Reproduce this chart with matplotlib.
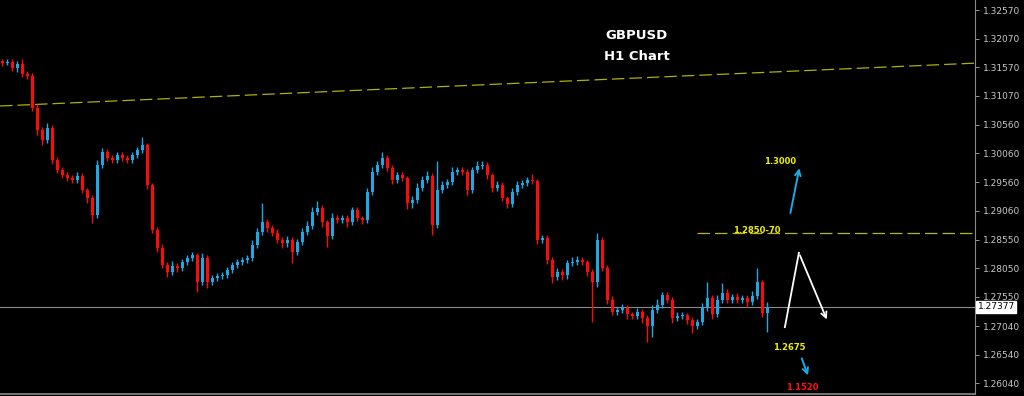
import matplotlib
matplotlib.use("Agg")
import matplotlib.pyplot as plt
import numpy as np

# GBPUSD H1 closes (one per candle)
closes = [
    1.3164, 1.3166, 1.3156, 1.3163, 1.3145, 1.3142, 1.3086, 1.3047, 1.3030, 1.3051,
    1.2995, 1.2977, 1.2968, 1.2963, 1.2960, 1.2967, 1.2942, 1.2928, 1.2898, 1.2986,
    1.3009, 1.2998, 1.2995, 1.3003, 1.2998, 1.2995, 1.3003, 1.3012, 1.3021, 1.2951,
    1.2872, 1.2841, 1.2811, 1.2799, 1.2809, 1.2806, 1.2816, 1.2823, 1.2828, 1.2781,
    1.2823, 1.2781, 1.2788, 1.2792, 1.2793, 1.2802, 1.2811, 1.2816, 1.2820, 1.2823,
    1.2846, 1.2869, 1.2886, 1.2876, 1.2867, 1.2855, 1.2849, 1.2855, 1.2834, 1.2851,
    1.2869, 1.2879, 1.2904, 1.2911, 1.2886, 1.2862, 1.2893, 1.2890, 1.2893, 1.2886,
    1.2907, 1.2893, 1.2890, 1.2939, 1.2974, 1.2986, 1.2998, 1.2981, 1.2960, 1.2968,
    1.2963, 1.2919, 1.2925, 1.2946, 1.2960, 1.2967, 1.2881, 1.2942, 1.2951, 1.2956,
    1.2974, 1.2977, 1.2974, 1.2942, 1.2977, 1.2984, 1.2986, 1.2968, 1.2946, 1.2951,
    1.2928, 1.2918, 1.2939, 1.2951, 1.2954, 1.2960, 1.2958, 1.2855, 1.2858, 1.2820,
    1.2790, 1.2799, 1.2793, 1.2814, 1.2816, 1.2820, 1.2816, 1.2799, 1.2781, 1.2855,
    1.2806, 1.2750, 1.2729, 1.2732, 1.2736, 1.2725, 1.2722, 1.2729, 1.2718, 1.2704,
    1.2732, 1.2741, 1.2758, 1.2750, 1.2718, 1.2722, 1.2723, 1.2715, 1.2704, 1.2711,
    1.2736, 1.2753, 1.2725, 1.2750, 1.2762, 1.2750, 1.2755, 1.2750, 1.2753, 1.2746,
    1.2757, 1.2781, 1.2727, 1.27377,
]
first_open = 1.3168

# wick length beyond the body, in pips
upper_pips = [
    4, 5, 6, 4, 8, 5, 4, 6, 5, 8, 4, 5, 6, 5, 5, 6, 5, 4, 5, 8,
    7, 5, 6, 5, 5, 6, 5, 6, 14, 4, 4, 5, 6, 5, 8, 5, 6, 5, 6, 4,
    9, 5, 6, 5, 5, 6, 5, 6, 5, 6, 8, 6, 33, 6, 5, 6, 5, 6, 5, 6,
    6, 8, 8, 12, 5, 4, 8, 5, 6, 5, 6, 5, 4, 6, 8, 6, 10, 5, 4, 6,
    5, 4, 6, 8, 6, 8, 4, 50, 6, 5, 8, 6, 5, 4, 6, 8, 6, 5, 4, 6,
    5, 4, 6, 6, 5, 5, 10, 4, 5, 5, 4, 6, 5, 6, 8, 6, 5, 4, 4, 12,
    4, 5, 6, 5, 6, 5, 4, 6, 5, 5, 8, 10, 6, 5, 5, 6, 5, 4, 5, 6,
    8, 28, 5, 8, 18, 6, 5, 6, 5, 6, 8, 25, 4, 8,
]
lower_pips = [
    5, 4, 6, 8, 5, 6, 6, 8, 10, 6, 8, 6, 5, 6, 6, 5, 6, 8, 14, 5,
    5, 6, 5, 6, 5, 6, 6, 5, 6, 8, 6, 8, 6, 10, 6, 8, 6, 5, 6, 17,
    6, 10, 6, 5, 6, 5, 6, 5, 6, 5, 5, 6, 6, 8, 6, 6, 8, 6, 19, 6,
    5, 6, 6, 5, 8, 19, 6, 5, 6, 8, 6, 6, 8, 5, 6, 5, 6, 6, 8, 6,
    6, 10, 8, 6, 5, 6, 17, 6, 5, 6, 5, 6, 6, 8, 5, 6, 6, 6, 8, 6,
    6, 8, 6, 5, 6, 5, 6, 8, 6, 8, 10, 6, 8, 6, 5, 6, 6, 8, 70, 8,
    6, 8, 6, 5, 6, 8, 6, 6, 8, 28, 20, 6, 5, 6, 8, 6, 6, 8, 12, 6,
    6, 6, 8, 6, 5, 6, 5, 6, 6, 8, 6, 5, 8, 33,
]

axis_ticks = [1.32570, 1.32070, 1.31570, 1.31070, 1.30560, 1.30060, 1.29560,
              1.29060, 1.28550, 1.28050, 1.27550, 1.27040, 1.26540, 1.26040]
last_price = 1.27377
trend_start, trend_end = 1.3089, 1.3164     # long yellow trendline
resist_level = 1.2867                       # short yellow dashed level

UP = "#1ca9e6"
DOWN = "#ff0a0a"
YEL = "#f0f000"

closes = np.array(closes)
opens = np.concatenate([[first_open], closes[:-1]])
highs = np.maximum(opens, closes) + np.array(upper_pips) * 0.0001
lows = np.minimum(opens, closes) - np.array(lower_pips) * 0.0001
idx = np.arange(len(closes)) + 0.5

fig = plt.figure(figsize=(10.24, 3.96), dpi=100, facecolor="black")
ax = fig.add_axes([0, 0.005, 0.952, 0.995], facecolor="black")
ax.set_xlim(0, 195)
ax.set_ylim(1.2585, 1.32745)

for x, o, h, l, c in zip(idx, opens, highs, lows, closes):
    col = UP if c >= o else DOWN
    ax.vlines(x, l, h, color=col, linewidth=1.0, zorder=3)
    ax.bar(x, abs(c - o) if abs(c - o) > 0.00005 else 0.00005,
           bottom=min(o, c), width=0.74, color=col, linewidth=0, zorder=4)

# trendline and levels
ax.plot([0, 195], [trend_start, trend_end], color="#b0b000", lw=0.9,
        dashes=(10, 4), zorder=2)
ax.plot([139.4, 195], [resist_level, resist_level], color="#b8b800", lw=0.9,
        dashes=(10, 4), zorder=2)
ax.axhline(last_price, color="#8a8a8a", lw=0.8, zorder=1)

# title
ax.text(127.4, 1.3212, "GBPUSD", color="white", fontsize=9.5, fontweight="bold",
        ha="center", va="center")
ax.text(127.4, 1.3175, "H1 Chart", color="white", fontsize=9.5, fontweight="bold",
        ha="center", va="center")

# scenario annotations
ax.text(156, 1.2992, "1.3000", color=YEL, fontsize=6, fontweight="bold",
        ha="center", va="center")
ax.annotate("", xy=(160, 1.2985), xytext=(158, 1.2897),
            arrowprops=dict(arrowstyle="->", color=UP, lw=1.4))
ax.text(151.4, 1.2872, "1.2850-70", color=YEL, fontsize=6, fontweight="bold",
        ha="center", va="center")
ax.plot([157, 159.8], [1.2702, 1.2832], color="white", lw=1.3)
ax.annotate("", xy=(165.6, 1.2711), xytext=(159.8, 1.2832),
            arrowprops=dict(arrowstyle="->", color="white", lw=1.3))
ax.text(157.8, 1.2667, "1.2675", color=YEL, fontsize=6, fontweight="bold",
        ha="center", va="center")
ax.annotate("", xy=(161.8, 1.2613), xytext=(160.2, 1.2652),
            arrowprops=dict(arrowstyle="->", color=UP, lw=1.4))
ax.text(160.4, 1.2597, "1.1520", color="#ff1010", fontsize=6,
        fontweight="bold", ha="center", va="center")

# price axis on the right
ax.yaxis.tick_right()
ax.set_yticks(axis_ticks)
ax.set_yticklabels([f"{t:.5f}" for t in axis_ticks])
ax.tick_params(axis="y", colors="#9a9a9a", labelcolor="#c8c8c8", labelsize=6.5,
               length=3, width=0.7, pad=3)
ax.set_xticks([])
for side in ("top", "left"):
    ax.spines[side].set_visible(False)
ax.spines["right"].set_color("#8a8a8a")
ax.spines["bottom"].set_color("#8a8a8a")
ax.spines["bottom"].set_linewidth(1.2)

ax.text(1.003, last_price, f"{last_price:.5f}", transform=ax.get_yaxis_transform(),
        color="black", fontsize=6.5, ha="left", va="center",
        bbox=dict(boxstyle="square,pad=0.15", fc="white", ec="white"))

fig.savefig("out.png", dpi=100, facecolor="black")
